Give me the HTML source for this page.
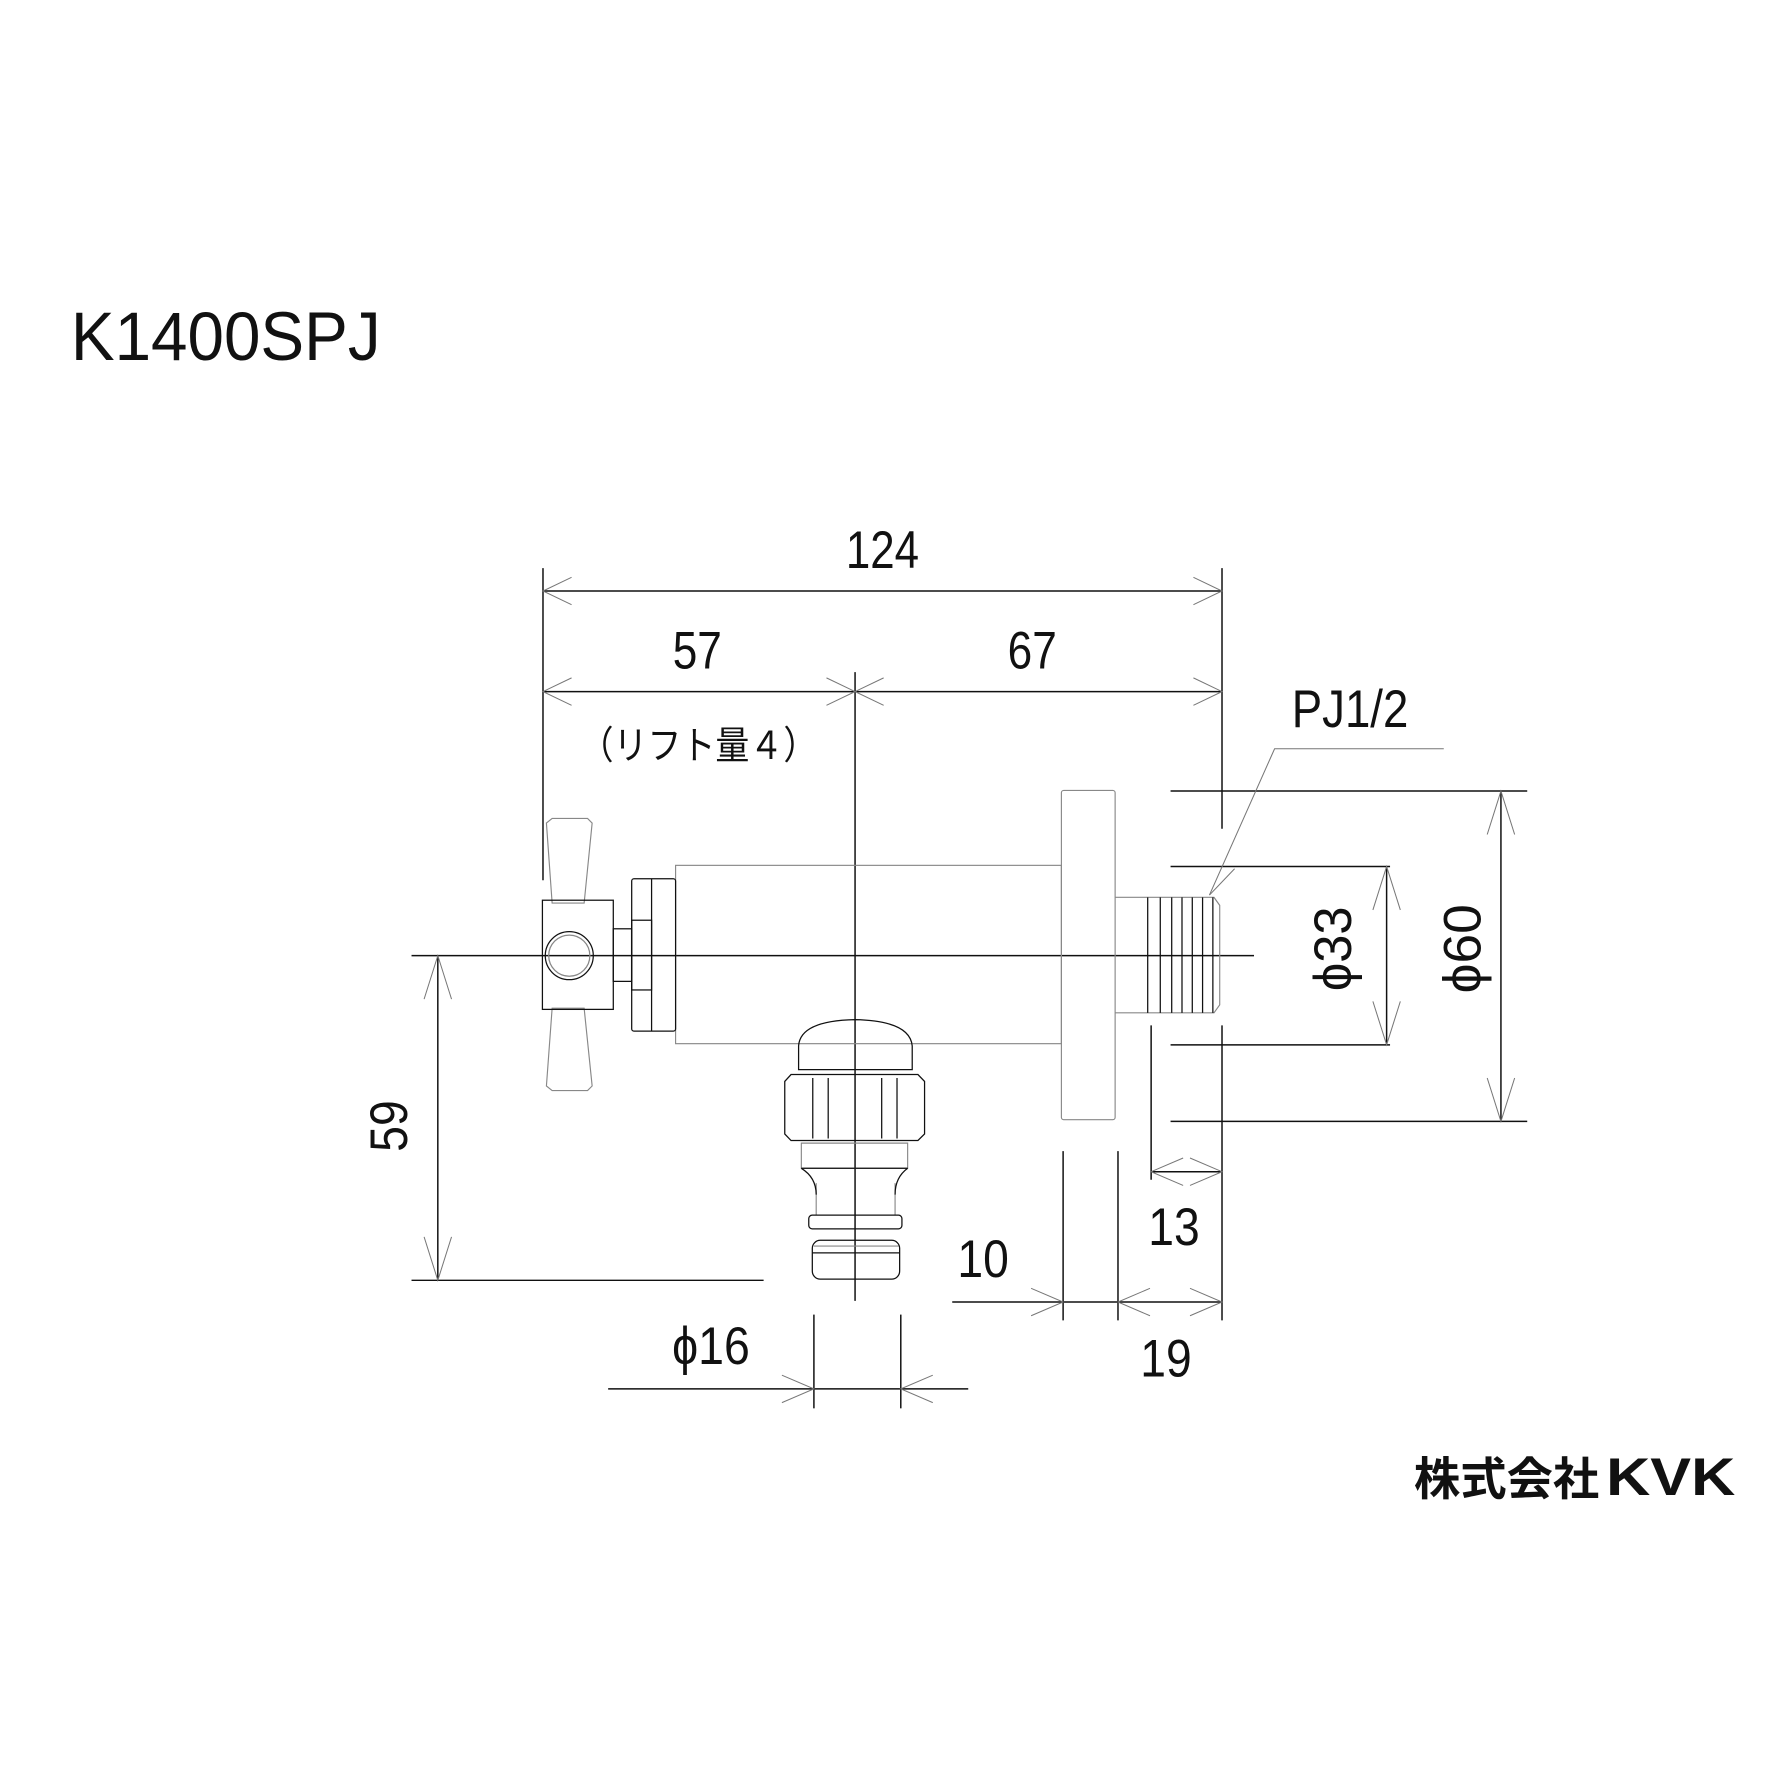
<!DOCTYPE html>
<html><head><meta charset="utf-8"><style>
html,body{margin:0;padding:0;background:#fff;}
svg{display:block;}
text{font-family:"Liberation Sans","Noto Sans CJK JP",sans-serif;fill:#111;}
</style></head><body>
<svg width="1789" height="1789" viewBox="0 0 1565 1565" xmlns="http://www.w3.org/2000/svg">
<rect width="1565" height="1565" fill="#fff"/>
<text x="62" y="315" font-size="60" textLength="271" lengthAdjust="spacingAndGlyphs">K1400SPJ</text>

<g stroke="#111" stroke-width="1.3" fill="none">
<line x1="475" y1="517" x2="1069" y2="517"/>
<line x1="475" y1="605" x2="1069" y2="605"/>
<line x1="475" y1="497" x2="475" y2="770"/>
<line x1="1069" y1="497" x2="1069" y2="725"/>
<line x1="1069" y1="897" x2="1069" y2="1155"/>
<line x1="748" y1="588" x2="748" y2="1138"/>
<line x1="360" y1="836" x2="1097" y2="836"/>
<line x1="1024" y1="692" x2="1336" y2="692"/>
<line x1="1024" y1="981" x2="1336" y2="981"/>
<line x1="1313" y1="692" x2="1313" y2="981"/>
<line x1="1024" y1="758" x2="1216" y2="758"/>
<line x1="1024" y1="914" x2="1216" y2="914"/>
<line x1="1213" y1="758" x2="1213" y2="914"/>
<line x1="383" y1="836" x2="383" y2="1120"/>
<line x1="360" y1="1120" x2="668" y2="1120"/>
<line x1="1007" y1="897" x2="1007" y2="1032"/>
<line x1="1007" y1="1025" x2="1069" y2="1025"/>
<line x1="930" y1="1007" x2="930" y2="1155"/>
<line x1="978" y1="1007" x2="978" y2="1155"/>
<line x1="833" y1="1139" x2="1069" y2="1139"/>
<line x1="712" y1="1150" x2="712" y2="1232"/>
<line x1="788" y1="1150" x2="788" y2="1232"/>
<line x1="532" y1="1215" x2="847" y2="1215"/>
</g>

<g stroke="#777" stroke-width="0.9" fill="none">
<path d="M500,505 L475,517 L500,529"/>
<path d="M1044,505 L1069,517 L1044,529"/>
<path d="M500,593 L475,605 L500,617"/>
<path d="M723,593 L748,605 L723,617"/>
<path d="M773,593 L748,605 L773,617"/>
<path d="M1044,593 L1069,605 L1044,617"/>
<path d="M1301,730 L1313,692 L1325,730"/>
<path d="M1301,943 L1313,981 L1325,943"/>
<path d="M1201,796 L1213,758 L1225,796"/>
<path d="M1201,876 L1213,914 L1225,876"/>
<path d="M371,874 L383,836 L395,874"/>
<path d="M371,1082 L383,1120 L395,1082"/>
<path d="M1035,1013 L1007,1025 L1035,1037"/>
<path d="M1041,1013 L1069,1025 L1041,1037"/>
<path d="M902,1127 L930,1139 L902,1151"/>
<path d="M1006,1127 L978,1139 L1006,1151"/>
<path d="M1041,1127 L1069,1139 L1041,1151"/>
<path d="M684,1203 L712,1215 L684,1227"/>
<path d="M816,1203 L788,1215 L816,1227"/>
<path d="M1263,655 L1115,655 L1058,783"/>
<path d="M1080,760 L1058,783"/>
</g>

<g stroke="#888" stroke-width="1" fill="none">
<rect x="591" y="757" width="337.5" height="156"/>
<rect x="928.5" y="691.5" width="47" height="288" rx="2"/>
<path d="M975.5,785 L1062,785 L1067,792 L1067,879 L1062,886 L975.5,886"/>
<path d="M483,716 L514,716 L518,720 L511,790 L483,790 L478,720 Z"/>
<path d="M483,882 L511,882 L518,950 L514,954 L483,954 L478,950 Z"/>
<path d="M701,1000 L794,1000 L794,1022 L701,1022 Z"/>
<path d="M714,1035 L714,1063 M783,1035 L783,1063"/>
<line x1="712" y1="1090" x2="786" y2="1090"/>
</g>
<g stroke="#111" stroke-width="1.1" fill="none">
<rect x="474.5" y="787.5" width="62" height="95.5"/>
<ellipse cx="498" cy="836" rx="21" ry="21"/>
<ellipse cx="498" cy="836" rx="18" ry="18" stroke="#888"/>
<rect x="536.5" y="812.5" width="16" height="46"/>
<rect x="552.6" y="768.7" width="38.4" height="133.3" rx="2"/>
<rect x="552.6" y="805" width="17.4" height="61"/>
<line x1="570" y1="768.7" x2="570" y2="902"/>
<path d="M1004,785 V886 M1015,785 V886 M1025,785 V886 M1034,785 V886 M1043,785 V886 M1052,785 V886 M1061,785 V886"/>
<path d="M698.6,935.7 L698.6,915 Q700,893 748,892 Q796,893 798,915 L798,935.7 Z"/>
<path d="M692,940 L803,940 L808.8,946 L808.8,992 L803,997.7 L692,997.7 L686.5,992 L686.5,946 Z"/>
<path d="M711,943 V996 M724.5,943 V996 M771.3,943 V996 M784.7,943 V996"/>
<line x1="701" y1="1022" x2="794" y2="1022"/>
<path d="M701,1022 Q714,1030 714,1045 M794,1022 Q783,1030 783,1045"/>
<rect x="707.5" y="1063" width="81.5" height="12" rx="3"/>
<rect x="710.6" y="1085" width="76.4" height="34" rx="7"/>
<line x1="710.6" y1="1096" x2="787" y2="1096"/>
</g>

<text x="772" y="497" font-size="46" text-anchor="middle" textLength="64" lengthAdjust="spacingAndGlyphs">124</text>
<text x="610" y="585" font-size="46" text-anchor="middle" textLength="43" lengthAdjust="spacingAndGlyphs">57</text>
<text x="903" y="585" font-size="46" text-anchor="middle" textLength="43" lengthAdjust="spacingAndGlyphs">67</text>
<text x="507" y="664" font-size="34" textLength="208" lengthAdjust="spacingAndGlyphs">（リフト量４）</text>
<text x="1130" y="636" font-size="46" textLength="102" lengthAdjust="spacingAndGlyphs">PJ1/2</text>
<text transform="translate(1182,830) rotate(-90)" font-size="46" text-anchor="middle" textLength="74" lengthAdjust="spacingAndGlyphs">ϕ33</text>
<text transform="translate(1295,830) rotate(-90)" font-size="46" text-anchor="middle" textLength="78" lengthAdjust="spacingAndGlyphs">ϕ60</text>
<text transform="translate(356,985) rotate(-90)" font-size="46" text-anchor="middle" textLength="45" lengthAdjust="spacingAndGlyphs">59</text>
<text x="1027" y="1089" font-size="46" text-anchor="middle" textLength="45" lengthAdjust="spacingAndGlyphs">13</text>
<text x="860" y="1117" font-size="46" text-anchor="middle" textLength="45" lengthAdjust="spacingAndGlyphs">10</text>
<text x="1020" y="1204" font-size="46" text-anchor="middle" textLength="45" lengthAdjust="spacingAndGlyphs">19</text>
<text x="588" y="1193" font-size="46" textLength="68" lengthAdjust="spacingAndGlyphs">ϕ16</text>
<text x="1237" y="1308" font-size="40" font-weight="bold" textLength="162" lengthAdjust="spacingAndGlyphs">株式会社</text>
<text x="1405" y="1308" font-size="46" font-weight="bold" textLength="113" lengthAdjust="spacingAndGlyphs">KVK</text>
</svg>
</body></html>
